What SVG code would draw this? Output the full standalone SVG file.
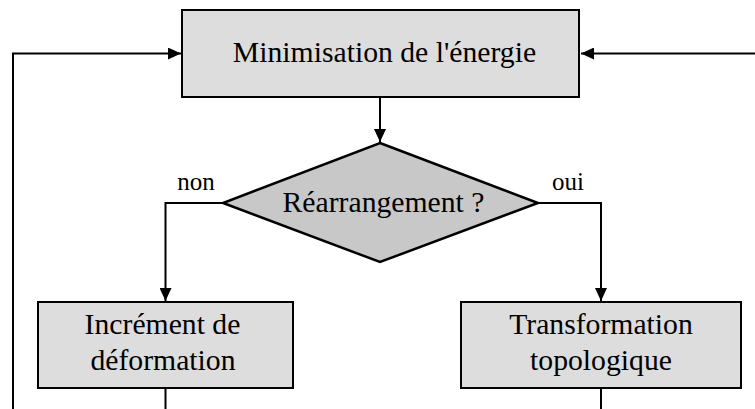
<svg xmlns="http://www.w3.org/2000/svg" width="755" height="409" viewBox="0 0 755 409">
<style>
.box{fill:#dddddd;stroke:#000;stroke-width:2}
.dia{fill:#c8c8c8;stroke:#000;stroke-width:2.5;stroke-linejoin:miter}
.t{font-size:29.7px;fill:#000;text-anchor:middle}
.l{font-size:25px;fill:#000;text-anchor:middle}
.c{fill:none;stroke:#000;stroke-width:2}
</style>
<defs>
<marker id="ah" markerUnits="userSpaceOnUse" markerWidth="14" markerHeight="12" refX="13" refY="6" orient="auto">
<path d="M0,0 L13,6 L0,12 Z" fill="#000"/>
</marker>
</defs>
<rect width="755" height="409" fill="#fff"/>
<g font-family="'Liberation Serif', 'Times New Roman', 'DejaVu Serif', serif">
<g id="connectors">
<path class="c" d="M13,409 V53.5 H181" marker-end="url(#ah)"/>
<path class="c" d="M755,53.5 H581" marker-end="url(#ah)"/>
<path class="c" d="M380,97 V142" marker-end="url(#ah)"/>
<path class="c" d="M223,203 H165.5 V301" marker-end="url(#ah)"/>
<path class="c" d="M538,203 H601 V301" marker-end="url(#ah)"/>
<path class="c" d="M165.5,388 V409"/>
<path class="c" d="M601,388 V409"/>
<text class="l" x="196" y="190">non</text>
<text class="l" x="568" y="190">oui</text>
</g>
<g id="minimisation">
<rect class="box" x="182" y="10" width="397" height="87"/>
<text class="t" x="384.5" y="62">Minimisation de l'énergie</text>
</g>
<g id="rearrangement">
<polygon class="dia" points="380,143 538,203 380,262 223,203"/>
<text class="t" x="383.5" y="212">Réarrangement ?</text>
</g>
<g id="increment">
<rect class="box" x="38" y="302" width="255" height="86"/>
<text class="t" x="162.5" y="334">Incrément de</text>
<text class="t" x="163" y="370">déformation</text>
</g>
<g id="transformation">
<rect class="box" x="461" y="302" width="280" height="86"/>
<text class="t" x="601" y="334">Transformation</text>
<text class="t" x="601" y="370">topologique</text>
</g>
</g>
</svg>
